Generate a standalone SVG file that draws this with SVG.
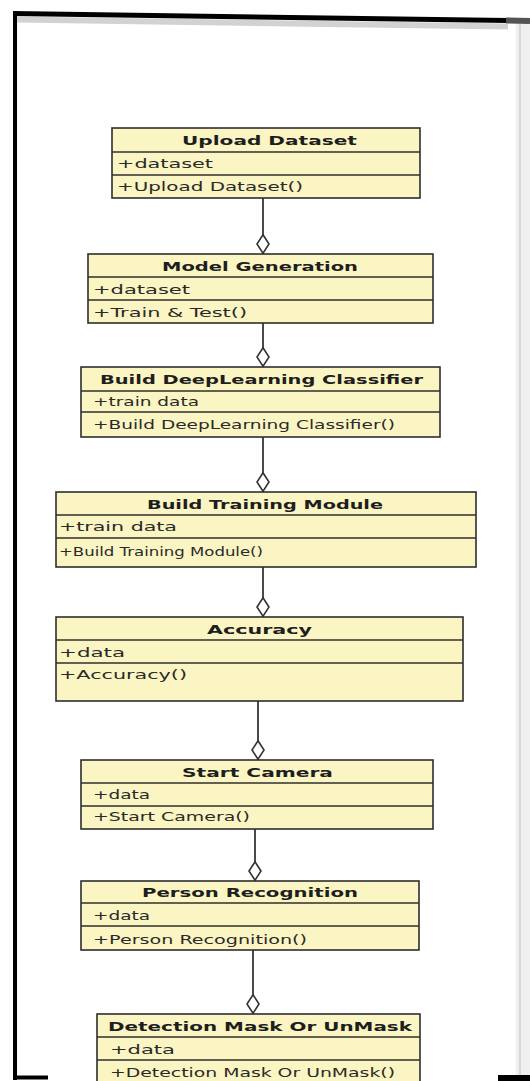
<svg xmlns="http://www.w3.org/2000/svg" width="530" height="1081" viewBox="0 0 530 1081">
<style>
.box{fill:#faf5c2;stroke:#2e2e2e;stroke-width:1.6}
.sep{stroke:#2e2e2e;stroke-width:1.3}
.t{font-family:"DejaVu Sans","Liberation Sans",sans-serif;font-weight:bold;font-size:13px;fill:#1e1e1e}
.a{font-family:"DejaVu Sans","Liberation Sans",sans-serif;font-size:12px;fill:#2a2a2a}
.c{stroke:#4a4a4a;stroke-width:2;fill:none;marker-end:url(#dia)}
</style>
<defs>
<marker id="dia" viewBox="0 0 20 14" refX="20" refY="7" markerWidth="20" markerHeight="14" markerUnits="userSpaceOnUse" orient="auto">
<path d="M0.8,7 L10,1 L19.2,7 L10,13 Z" fill="#ffffff" stroke="#333" stroke-width="1.6"/>
</marker>
</defs>
<rect width="530" height="1081" fill="#ffffff"/>
<g id="frame">
<rect x="516" y="20" width="14" height="1061" fill="#f0f0f0"/>
<line x1="520" y1="22" x2="520" y2="1075" stroke="#d8d8d8" stroke-width="2"/>
<line x1="17" y1="19.5" x2="508" y2="26.5" stroke="#d2d2d2" stroke-width="6"/>
<line x1="13" y1="13.5" x2="508" y2="20.5" stroke="#000" stroke-width="5"/>
<line x1="506" y1="20.5" x2="530" y2="21" stroke="#555" stroke-width="6"/>
<line x1="15" y1="11" x2="15" y2="1080" stroke="#000" stroke-width="4"/>
<line x1="13" y1="1077.5" x2="48" y2="1077.5" stroke="#000" stroke-width="4"/>
<rect x="498" y="1075" width="32" height="6" fill="#000"/>
</g>
<g id="connectors">
<path class="c" d="M263,198 L263,254"/>
<path class="c" d="M263,323 L263,367"/>
<path class="c" d="M263,437 L263,492"/>
<path class="c" d="M263,567 L263,617"/>
<path class="c" d="M258,701 L258,760"/>
<path class="c" d="M255,829 L255,881"/>
<path class="c" d="M253,950 L253,1014"/>
</g>
<g id="upload-dataset">
<rect class="box" x="112" y="128" width="308" height="70"/>
<line class="sep" x1="112" y1="152" x2="420" y2="152"/>
<line class="sep" x1="112" y1="175" x2="420" y2="175"/>
<text class="t" x="182" y="145" textLength="175" lengthAdjust="spacingAndGlyphs">Upload Dataset</text>
<text class="a" x="117" y="168" textLength="96" lengthAdjust="spacingAndGlyphs">+dataset</text>
<text class="a" x="117" y="191" textLength="186" lengthAdjust="spacingAndGlyphs">+Upload Dataset()</text>
</g>
<g id="model-generation">
<rect class="box" x="88" y="254" width="345" height="69"/>
<line class="sep" x1="88" y1="277" x2="433" y2="277"/>
<line class="sep" x1="88" y1="300" x2="433" y2="300"/>
<text class="t" x="162" y="271" textLength="196" lengthAdjust="spacingAndGlyphs">Model Generation</text>
<text class="a" x="93" y="294" textLength="97" lengthAdjust="spacingAndGlyphs">+dataset</text>
<text class="a" x="93" y="317" textLength="154" lengthAdjust="spacingAndGlyphs">+Train &amp; Test()</text>
</g>
<g id="build-deeplearning-classifier">
<rect class="box" x="81" y="367" width="359" height="70"/>
<line class="sep" x1="81" y1="391" x2="440" y2="391"/>
<line class="sep" x1="81" y1="412" x2="440" y2="412"/>
<text class="t" x="100" y="384" textLength="323" lengthAdjust="spacingAndGlyphs">Build DeepLearning Classifier</text>
<text class="a" x="93" y="406" textLength="106" lengthAdjust="spacingAndGlyphs">+train data</text>
<text class="a" x="93" y="429" textLength="302" lengthAdjust="spacingAndGlyphs">+Build DeepLearning Classifier()</text>
</g>
<g id="build-training-module">
<rect class="box" x="56" y="492" width="420" height="75"/>
<line class="sep" x1="56" y1="515" x2="476" y2="515"/>
<line class="sep" x1="56" y1="538" x2="476" y2="538"/>
<text class="t" x="147" y="509" textLength="236" lengthAdjust="spacingAndGlyphs">Build Training Module</text>
<text class="a" x="59" y="531" textLength="118" lengthAdjust="spacingAndGlyphs">+train data</text>
<text class="a" x="59" y="556" textLength="204" lengthAdjust="spacingAndGlyphs">+Build Training Module()</text>
</g>
<g id="accuracy">
<rect class="box" x="56" y="617" width="407" height="84"/>
<line class="sep" x1="56" y1="640" x2="463" y2="640"/>
<line class="sep" x1="56" y1="663" x2="463" y2="663"/>
<text class="t" x="207" y="634" textLength="105" lengthAdjust="spacingAndGlyphs">Accuracy</text>
<text class="a" x="59" y="657" textLength="66" lengthAdjust="spacingAndGlyphs">+data</text>
<text class="a" x="59" y="679" textLength="128" lengthAdjust="spacingAndGlyphs">+Accuracy()</text>
</g>
<g id="start-camera">
<rect class="box" x="81" y="760" width="352" height="69"/>
<line class="sep" x1="81" y1="783" x2="433" y2="783"/>
<line class="sep" x1="81" y1="806" x2="433" y2="806"/>
<text class="t" x="182" y="777" textLength="151" lengthAdjust="spacingAndGlyphs">Start Camera</text>
<text class="a" x="93" y="799" textLength="57" lengthAdjust="spacingAndGlyphs">+data</text>
<text class="a" x="93" y="821" textLength="157" lengthAdjust="spacingAndGlyphs">+Start Camera()</text>
</g>
<g id="person-recognition">
<rect class="box" x="81" y="881" width="338" height="69"/>
<line class="sep" x1="81" y1="903" x2="419" y2="903"/>
<line class="sep" x1="81" y1="926" x2="419" y2="926"/>
<text class="t" x="142" y="897" textLength="216" lengthAdjust="spacingAndGlyphs">Person Recognition</text>
<text class="a" x="93" y="920" textLength="57" lengthAdjust="spacingAndGlyphs">+data</text>
<text class="a" x="93" y="944" textLength="214" lengthAdjust="spacingAndGlyphs">+Person Recognition()</text>
</g>
<g id="detection-mask-or-unmask">
<rect class="box" x="97" y="1014" width="323" height="75"/>
<line class="sep" x1="97" y1="1037" x2="420" y2="1037"/>
<line class="sep" x1="97" y1="1060" x2="420" y2="1060"/>
<text class="t" x="108" y="1031" textLength="304" lengthAdjust="spacingAndGlyphs">Detection Mask Or UnMask</text>
<text class="a" x="110" y="1054" textLength="65" lengthAdjust="spacingAndGlyphs">+data</text>
<text class="a" x="110" y="1077" textLength="285" lengthAdjust="spacingAndGlyphs">+Detection Mask Or UnMask()</text>
</g>
</svg>
